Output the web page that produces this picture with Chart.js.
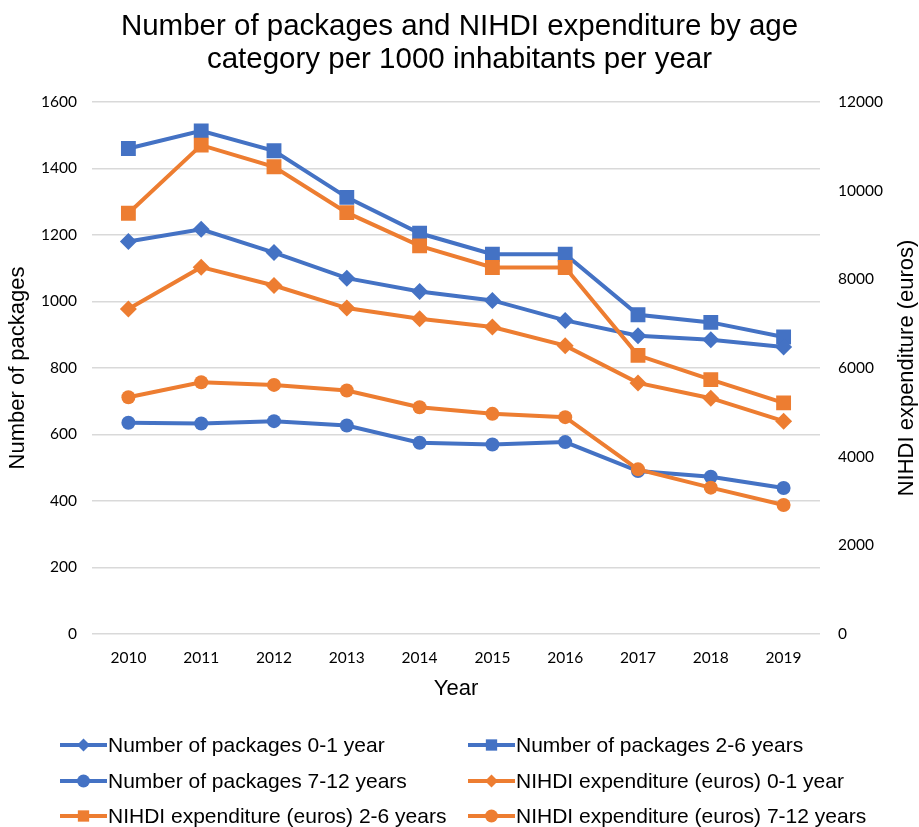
<!DOCTYPE html>
<html>
<head>
<meta charset="utf-8">
<script src="https://cdn.jsdelivr.net/npm/chart.js@4"></script>
<style>
  body { margin: 0; background: #fff; }
  #wrap { width: 919px; height: 827px; }
</style>
</head>
<body>
<div id="wrap"><canvas id="nihdiChart" width="919" height="827"></canvas></div>
<script>
var years = ["2010", "2011", "2012", "2013", "2014", "2015", "2016", "2017", "2018", "2019"];

// number of packages per 1000 inhabitants (left axis)
var packages01 = [1180, 1217, 1147, 1070, 1030, 1003, 943, 897, 885, 863];
var packages26 = [1460, 1513, 1453, 1313, 1205, 1142, 1142, 960, 937, 893];
var packages712 = [635, 633, 640, 627, 575, 570, 577, 490, 473, 439];

// NIHDI expenditure in euros per 1000 inhabitants (right axis)
var expenditure01 = [7328, 8273, 7860, 7350, 7110, 6923, 6503, 5663, 5318, 4800];
var expenditure26 = [9488, 11025, 10537, 9502, 8753, 8265, 8265, 6285, 5738, 5213];
var expenditure712 = [5340, 5678, 5618, 5490, 5115, 4965, 4890, 3713, 3300, 2910];

var seriesLabels = [
    "Number of packages 0-1 year",
    "Number of packages 2-6 years",
    "Number of packages 7-12 years",
    "NIHDI expenditure (euros) 0-1 year",
    "NIHDI expenditure (euros) 2-6 years",
    "NIHDI expenditure (euros) 7-12 years"
];

var blue = "#4472C4";
var orange = "#ED7D31";
var tickFont = { family: "Lato, 'Open Sans', sans-serif", size: 15.5 };
var textFont = "'Liberation Sans', Arial, sans-serif";

function series(label, data, color, style, radius, axis, order) {
    return {
        label: label,
        data: data,
        borderColor: color,
        backgroundColor: color,
        borderWidth: 4,
        pointStyle: style,
        pointRadius: radius,
        pointBorderWidth: 0,
        pointBackgroundColor: color,
        tension: 0,
        yAxisID: axis,
        order: order
    };
}

function plainNumber(value) {
    return String(value);
}

// legend laid out in two columns below the plot
var gridLegend = {
    id: "gridLegend",
    afterDraw: function (chart) {
        var ctx = chart.ctx;
        var colX = [60, 468];
        var rowY = [745, 781, 816];
        ctx.save();
        chart.data.datasets.forEach(function (ds, i) {
            var x = colX[i % 2];
            var y = rowY[Math.floor(i / 2)];
            ctx.strokeStyle = ds.borderColor;
            ctx.lineWidth = 4;
            ctx.beginPath();
            ctx.moveTo(x, y);
            ctx.lineTo(x + 47, y);
            ctx.stroke();
            ctx.fillStyle = ds.backgroundColor;
            Chart.helpers.drawPoint(ctx, {
                pointStyle: ds.pointStyle,
                radius: ds.pointStyle === "rect" ? 8 : 6.5,
                borderWidth: 0,
                rotation: 0
            }, x + 23.5, y);
            ctx.fillStyle = "#000";
            ctx.font = "21px " + textFont;
            ctx.textBaseline = "middle";
            ctx.textAlign = "left";
            ctx.fillText(ds.label, x + 48, y + 1);
        });
        // right axis title, reading bottom to top
        var area = chart.chartArea;
        ctx.font = "22px " + textFont;
        ctx.translate(907, (area.top + area.bottom) / 2);
        ctx.rotate(-Math.PI / 2);
        ctx.textAlign = "center";
        ctx.fillText("NIHDI expenditure (euros)", 0, 0);
        ctx.restore();
    }
};

var config = {
    type: "line",
    data: {
        labels: years,
        datasets: [
            series(seriesLabels[0], packages01, blue, "rectRot", 8.5, "yLeft", 2),
            series(seriesLabels[1], packages26, blue, "rect", 10.5, "yLeft", 2),
            series(seriesLabels[2], packages712, blue, "circle", 7, "yLeft", 2),
            series(seriesLabels[3], expenditure01, orange, "rectRot", 8.5, "yRight", 1),
            series(seriesLabels[4], expenditure26, orange, "rect", 10.5, "yRight", 1),
            series(seriesLabels[5], expenditure712, orange, "circle", 7, "yRight", 1)
        ]
    },
    options: {
        responsive: false,
        animation: false,
        devicePixelRatio: 1,
        layout: { padding: { left: 0, right: 0, top: 0, bottom: 121 } },
        plugins: {
            legend: { display: false },
            tooltip: { enabled: false },
            title: {
                display: true,
                text: ["Number of packages and NIHDI expenditure by age",
                       "category per 1000 inhabitants per year"],
                color: "#000",
                font: { family: textFont, size: 29.5, weight: "normal", lineHeight: 1.1 },
                padding: { top: 11, bottom: 26 }
            }
        },
        scales: {
            x: {
                offset: true,
                grid: { display: false, drawTicks: false },
                border: { display: false },
                ticks: { color: "#000", font: tickFont, padding: 15 },
                title: { display: true, text: "Year", color: "#000",
                         font: { family: textFont, size: 22 }, padding: { top: 4, bottom: 4 } },
                afterFit: function (s) { s.height = 72; }
            },
            yLeft: {
                position: "left",
                min: 0, max: 1600,
                ticks: { stepSize: 200, color: "#000", font: tickFont, padding: 15, callback: plainNumber },
                grid: { color: "#d9d9d9", lineWidth: 1.5, drawTicks: false },
                border: { display: false },
                title: { display: true, text: "Number of packages", color: "#000",
                         font: { family: textFont, size: 22 }, padding: { top: 5, bottom: 0 } },
                afterFit: function (s) { s.width = 92; }
            },
            yRight: {
                position: "right",
                min: 0, max: 12000,
                ticks: { stepSize: 2000, color: "#000", font: tickFont, padding: 18, callback: plainNumber },
                grid: { display: false, drawTicks: false },
                border: { display: false },
                afterFit: function (s) { s.width = 99; }
            }
        }
    },
    plugins: [gridLegend]
};

var nihdiChart = new Chart(document.getElementById("nihdiChart"), config);
</script>
</body>
</html>
